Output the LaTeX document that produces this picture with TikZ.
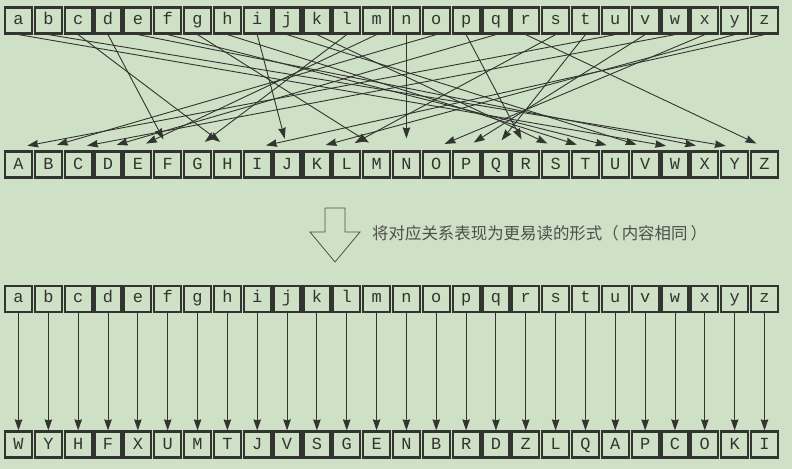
\documentclass[tikz,border=0pt]{standalone}
\usepackage{fontspec}
\usepackage{xcolor}
\usepackage{tikz}
\setmonofont{Liberation Mono}
\newfontfamily\cjk{Noto Sans CJK SC}
\definecolor{cipherbg}{RGB}{206, 224, 197}
\definecolor{cipherdark}{RGB}{50, 52, 48}
\definecolor{ciphergray}{RGB}{78, 80, 76}
\usetikzlibrary{arrows.meta,positioning,calc}

% plaintext letter / ciphertext letter
\newcommand\ciphermap{a/W,b/Y,c/H,d/F,e/X,f/U,g/M,h/T,i/J,j/V,k/S,l/G,m/E,n/N,o/B,p/R,q/D,r/Z,s/L,t/Q,u/A,v/P,w/C,x/O,y/K,z/I}

\tikzset{
    letterbox/.style={rectangle, draw=cipherdark, fill=cipherbg, line width=2.2bp,
        minimum width=27bp, minimum height=26bp, inner sep=0pt, text=cipherdark,
        font=\ttfamily\fontsize{17}{17}\selectfont},
    lowrow/.style={text height=7.2bp, text depth=0pt},
    caprow/.style={text height=9.8bp, text depth=0pt},
    crossarrow/.style={-{Stealth[length=11bp, width=7.5bp, inset=1bp]}, line width=0.9bp,
        draw=cipherdark, shorten >=9bp},
    downarrow/.style={-{Stealth[length=11bp, width=7.5bp, inset=1bp]}, line width=0.9bp,
        draw=cipherdark}
}

\begin{document}
\begin{tikzpicture}[x=1bp, y=-1bp]
    % Background
    \fill[cipherbg] (0, 0) rectangle (792, 469);
    \useasboundingbox (0, 0) rectangle (792, 469);

    % Tangled mapping: a-z on top, A-Z below
    \foreach \p/\c [count=\i from 0] in \ciphermap {
        \node[letterbox, lowrow] (src-\p) at ({18.5 + 29.84*\i}, 20.5) {\p};
    }
    \foreach \u [count=\i from 0] in {A,B,C,D,E,F,G,H,I,J,K,L,M,N,O,P,Q,R,S,T,U,V,W,X,Y,Z} {
        \node[letterbox, caprow] (dst-\u) at ({18.5 + 29.84*\i}, 164.5) {\u};
    }
    \foreach \p/\c in \ciphermap {
        \draw[crossarrow] (src-\p.south) -- ([yshift=3bp]dst-\c.north);
    }

    % Hollow arrow and note
    \draw[line width=0.8bp, draw=ciphergray, fill=cipherbg]
        (325, 208) -- (345, 208) -- (345, 232) -- (360, 232) -- (335, 262)
        -- (310, 232) -- (325, 232) -- cycle;
    \node[anchor=west, inner sep=0pt, text=ciphergray, font=\cjk\fontsize{16.5}{16.5}\selectfont]
        (note) at (372, 233) {将对应关系表现为更易读的形式（\hspace{3bp}内容相同\hspace{3bp}）};

    % Readable mapping: straight arrows
    \foreach \p/\c [count=\i from 0] in \ciphermap {
        \node[letterbox, lowrow] (plain-\p) at ({18.5 + 29.84*\i}, 299) {\p};
        \node[letterbox, caprow] (ciph-\p) at ({18.5 + 29.84*\i}, 444.5) {\c};
        \draw[downarrow] (plain-\p.south) -- (ciph-\p.north);
    }
\end{tikzpicture}
\end{document}
